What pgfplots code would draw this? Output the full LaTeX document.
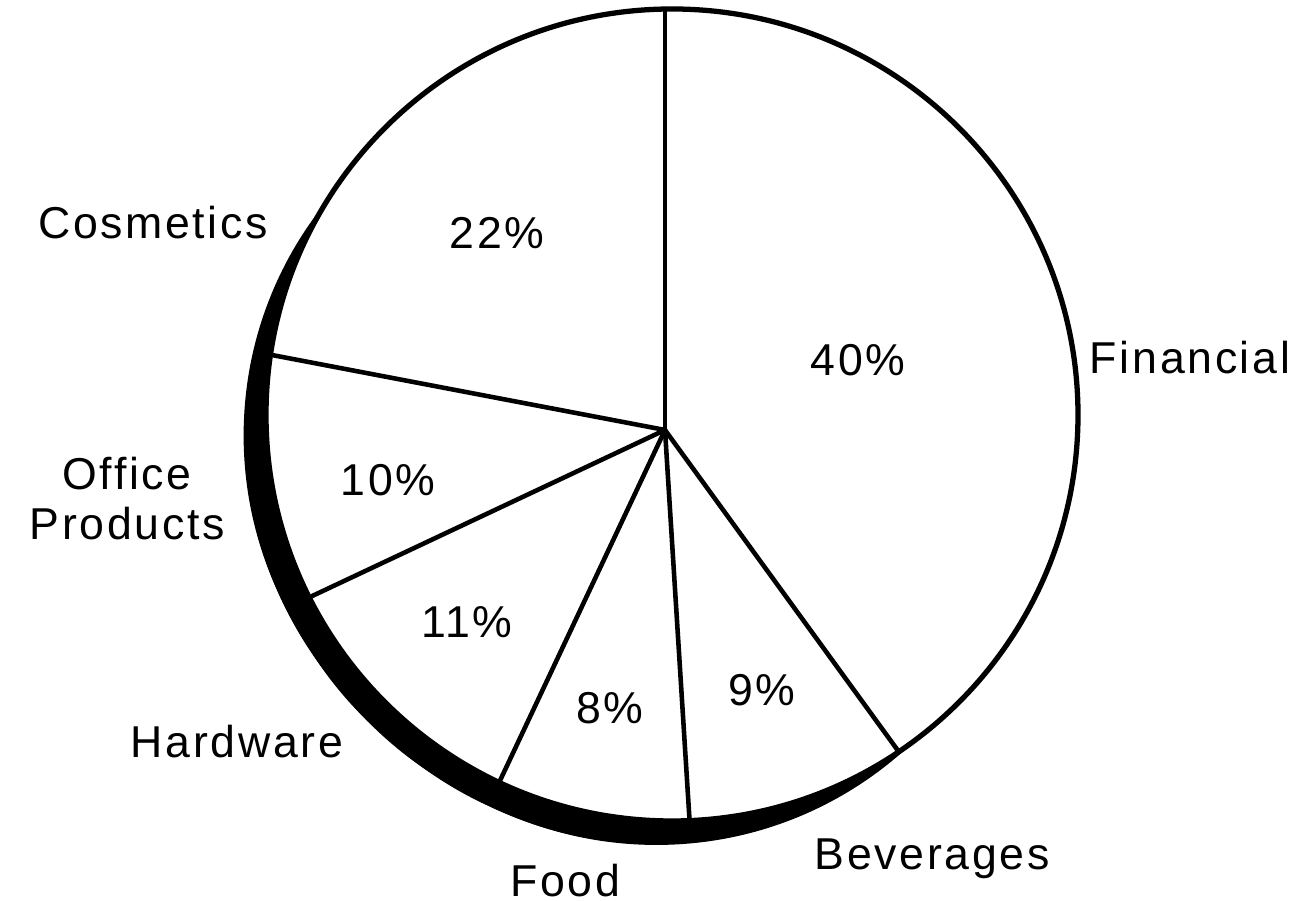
\documentclass[border=0pt]{standalone}
\usepackage{pgfplots}
\pgfplotsset{compat=1.18}
\usepackage{pgfplotstable}
\usepackage{fontspec}
\setmainfont{Liberation Sans}[LetterSpace=6, Ligatures=NoCommon]

% slices, clockwise from 12 o'clock; px,py = position of the percentage (baseline)
\pgfplotstableread{
label     pct  px   py
Financial 40   858  525
Beverages 9    762  195
Food      8    610  177
Hardware  11   467  263
Office    10   388  405
Cosmetics 22   497  652
}\piedata
% cumulative share, boundary angle, and length of the boundary line from the
% pie vertex (665,471) to the rim (centre (672,486), radius 406)
\pgfplotstablecreatecol[create col/expr accum={\pgfmathaccuma + \thisrow{pct}}{0}]{cum}\piedata
\pgfplotstablecreatecol[create col/expr={90-3.6*\thisrow{cum}}]{ang}\piedata
\pgfplotstablecreatecol[create col/expr={7*cos(\thisrow{ang})+15*sin(\thisrow{ang})
   + sqrt((7*cos(\thisrow{ang})+15*sin(\thisrow{ang}))^2 + 406^2 - 274)}]{len}\piedata

% category labels (centre x, baseline y)
\pgfplotstableread{
x    y   text
1190 527 Financial
932  31  Beverages
565  4   Food
237  143 Hardware
127  411 Office
127  361 Products
153  662 Cosmetics
}\labeldata

\begin{document}
\begin{tikzpicture}[font=\fontsize{12.7}{15}\selectfont]
\begin{axis}[
  hide axis, scale only axis,
  width=12.95cm, height=9.01cm,
  xmin=0, xmax=1295, ymin=0, ymax=901,
  clip=false,
  /pgf/number format/assume math mode=true,
]
% shadow (black rim on lower left)
\pgfplotsinvokeforeach{200,205,210,220,230,240,250,255}{
  \fill[black] (axis cs:{672+60*cos(#1)},{486+60*sin(#1)}) circle[radius=372];
}
% pie disc
\draw[black, line width=1.5pt, fill=white] (axis cs:672,486) circle[radius=406];
% slice boundaries
\addplot[black, line width=1.3pt, line cap=round,
  quiver={u={\thisrow{len}*cos(\thisrow{ang})}, v={\thisrow{len}*sin(\thisrow{ang})}}]
  table[x expr=665, y expr=471] {\piedata};
% percentages
\addplot[draw=none, mark=none, point meta=explicit,
  nodes near coords={\pgfmathprintnumber{\pgfplotspointmeta}\%},
  every node near coord/.append style={anchor=base, inner sep=0pt}]
  table[x=px, y=py, meta=pct] {\piedata};
% category names
\addplot[draw=none, mark=none, point meta=explicit symbolic,
  nodes near coords,
  every node near coord/.append style={anchor=base, inner sep=0pt}]
  table[x=x, y=y, meta=text] {\labeldata};
\end{axis}
\pgfresetboundingbox
\useasboundingbox (current axis.south west) rectangle (current axis.north east);
\end{tikzpicture}
\end{document}
